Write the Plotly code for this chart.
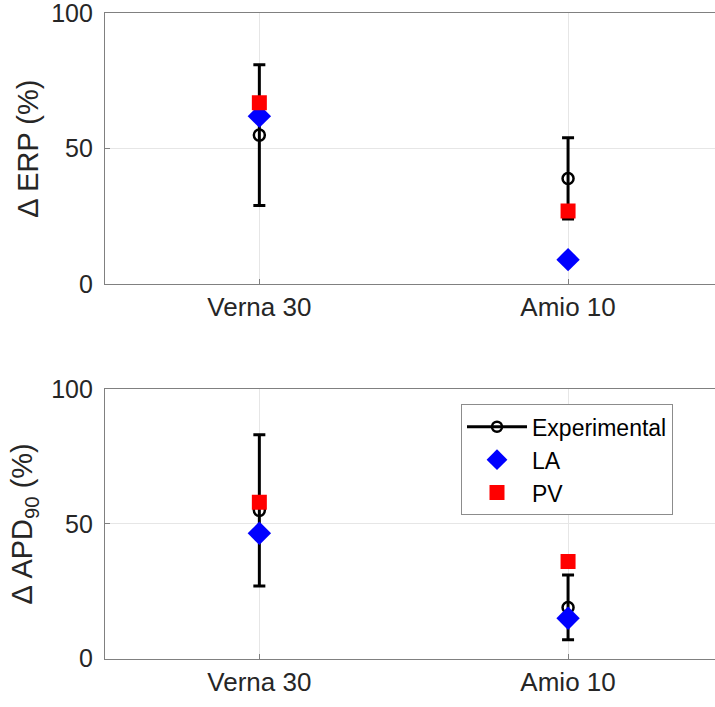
import plotly.graph_objects as go

categories = ["Verna 30", "Amio 10"]

erp_exp = [55, 39]
erp_exp_err = [26, 15]
erp_la = [62, 9]
erp_pv = [67, 27]

apd_exp = [55, 19]
apd_exp_err = [28, 12]
apd_la = [46.5, 15]
apd_pv = [58, 36]

y_ticks = [0, 50, 100]

FONT = "Liberation Sans, Arial, sans-serif"
TXT = "#262626"
AX = "#808080"
GRID = "#e6e6e6"

fig = go.Figure()

def add_panel(exp, err, la, pv, xa, ya, legend):
    fig.add_trace(go.Scatter(
        x=categories, y=exp, xaxis=xa, yaxis=ya, mode="markers",
        marker=dict(symbol="circle-open", size=11, color="black", line=dict(width=2.5, color="black")),
        error_y=dict(type="data", array=err, visible=True, color="black", thickness=3, width=6),
        showlegend=False, name="Experimental"))
    fig.add_trace(go.Scatter(
        x=categories, y=la, xaxis=xa, yaxis=ya, mode="markers",
        marker=dict(symbol="diamond", size=18, color="#0000ff"),
        showlegend=legend, name="LA", legendrank=2))
    fig.add_trace(go.Scatter(
        x=categories, y=pv, xaxis=xa, yaxis=ya, mode="markers",
        marker=dict(symbol="square", size=15, color="#ff0000"),
        showlegend=legend, name="PV", legendrank=3))

add_panel(erp_exp, erp_exp_err, erp_la, erp_pv, "x", "y", False)
add_panel(apd_exp, apd_exp_err, apd_la, apd_pv, "x2", "y2", True)

# legend-only entry for Experimental (line + open circle)
fig.add_trace(go.Scatter(
    x=[None], y=[None], xaxis="x2", yaxis="y2", mode="lines+markers",
    line=dict(color="black", width=3),
    marker=dict(symbol="circle-open", size=10, color="black", line=dict(width=2.5, color="black")),
    name="Experimental", legendrank=1))

W, H = 715, 707
xdom = [105 / W, 1.0]
top_dom = [1 - 284 / H, 1 - 13.3 / H]
bot_dom = [1 - 658.7 / H, 1 - 389 / H]

xcommon = dict(
    type="category", categoryorder="array", categoryarray=categories,
    range=[-0.5, 1.476], domain=xdom, automargin=False,
    showgrid=True, gridcolor=GRID, gridwidth=1,
    showline=True, linecolor=AX, linewidth=1.3, mirror=True,
    ticks="inside", ticklen=5, tickcolor=AX,
    tickfont=dict(family=FONT, size=26, color=TXT),
    zeroline=False, fixedrange=True,
)
ycommon = dict(
    range=[0, 100], tickvals=y_ticks, automargin=False,
    showgrid=True, gridcolor=GRID, gridwidth=1,
    showline=True, linecolor=AX, linewidth=1.3, mirror=False,
    ticks="inside", ticklen=5, tickcolor=AX,
    tickfont=dict(family=FONT, size=25, color=TXT),
    ticklabeloverflow="allow",
    zeroline=False, fixedrange=True, ticklabelstandoff=6,
)

fig.update_layout(
    width=W, height=H,
    margin=dict(l=0, r=0, t=0, b=0, autoexpand=False),
    paper_bgcolor="white", plot_bgcolor="white",
    font=dict(family=FONT, color=TXT),
    xaxis=dict(xcommon, anchor="y"),
    yaxis=dict(ycommon, domain=top_dom, anchor="x",
               title=dict(text="Δ ERP (%)", font=dict(family=FONT, size=29, color=TXT), standoff=3)),
    xaxis2=dict(xcommon, anchor="y2"),
    yaxis2=dict(ycommon, domain=bot_dom, anchor="x2",
                title=dict(text="Δ APD<sub>90</sub> (%)", font=dict(family=FONT, size=29, color=TXT), standoff=9)),
    legend=dict(
        x=461 / W, y=1 - 404.3 / H, xanchor="left", yanchor="top",
        bgcolor="white", bordercolor="#8c8c8c", borderwidth=1,
        font=dict(family=FONT, size=23, color="black"),
        itemwidth=60, tracegroupgap=0,
    ),
    showlegend=True,
)

fig.write_html("out.html")
